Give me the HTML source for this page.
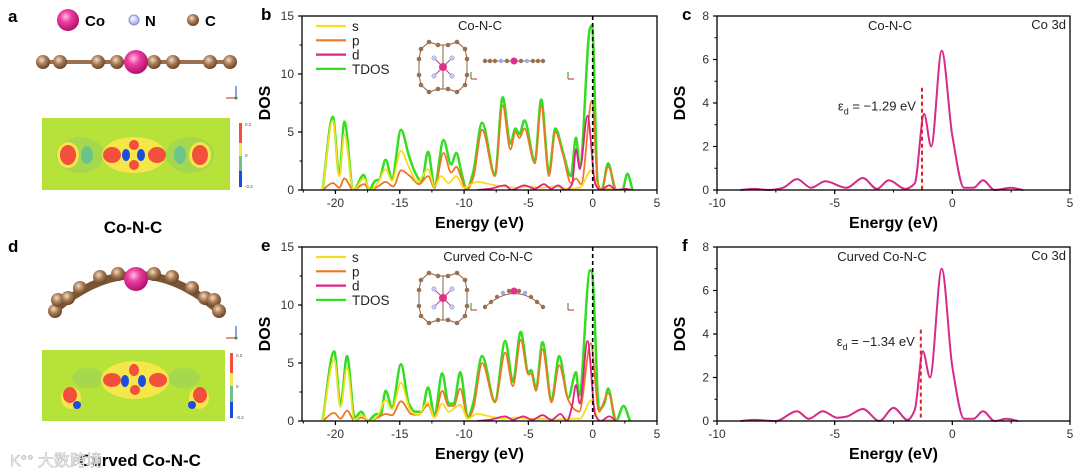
<!DOCTYPE html>
<html><head><meta charset="utf-8">
<style>
html,body{margin:0;padding:0;background:#fff;}
svg{display:block;font-family:"Liberation Sans",Arial,sans-serif;}
</style></head>
<body>
<svg id="fig" width="1080" height="473" viewBox="0 0 1080 473" xmlns="http://www.w3.org/2000/svg">
<defs>
<radialGradient id="gCo" cx="40%" cy="35%" r="65%"><stop offset="0" stop-color="#ffc0e4"/><stop offset="0.4" stop-color="#ec3ea0"/><stop offset="1" stop-color="#b0106a"/></radialGradient>
<radialGradient id="gC" cx="40%" cy="35%" r="65%"><stop offset="0" stop-color="#f3dcc4"/><stop offset="0.5" stop-color="#a77a55"/><stop offset="1" stop-color="#6a4526"/></radialGradient>
<radialGradient id="gN" cx="40%" cy="35%" r="65%"><stop offset="0" stop-color="#ffffff"/><stop offset="1" stop-color="#9aa2e8"/></radialGradient>
</defs>

<g>
<text x="8" y="22" font-size="17" font-weight="bold">a</text>
<circle cx="68" cy="20" r="11" fill="url(#gCo)"/>
<text x="85" y="26" font-size="15" font-weight="bold">Co</text>
<circle cx="134" cy="20" r="5" fill="url(#gN)" stroke="#8a90d8"/>
<text x="145" y="26" font-size="15" font-weight="bold">N</text>
<circle cx="193" cy="20" r="6" fill="url(#gC)"/>
<text x="205" y="26" font-size="15" font-weight="bold">C</text>
<g>
<rect x="45" y="60" width="186" height="4" fill="#9a7050"/>
<circle cx="43" cy="62" r="7" fill="url(#gC)"/><circle cx="60" cy="62" r="7" fill="url(#gC)"/>
<circle cx="98" cy="62" r="7" fill="url(#gC)"/><circle cx="117" cy="62" r="7" fill="url(#gC)"/>
<circle cx="154" cy="62" r="7" fill="url(#gC)"/><circle cx="173" cy="62" r="7" fill="url(#gC)"/>
<circle cx="210" cy="62" r="7" fill="url(#gC)"/><circle cx="230" cy="62" r="7" fill="url(#gC)"/>
<circle cx="136" cy="62" r="12" fill="url(#gCo)"/>
</g>
<g><line x1="236" y1="98" x2="236" y2="86" stroke="#2040d0"/><line x1="236" y1="98" x2="226" y2="98" stroke="#d02020"/><circle cx="236" cy="98" r="1.5" fill="#20a020"/></g>
<g>
<rect x="42" y="118" width="188" height="72" fill="#b6e23a"/>
<ellipse cx="80" cy="155" rx="24" ry="18" fill="#a6d84e"/><ellipse cx="190" cy="155" rx="24" ry="18" fill="#a6d84e"/>
<ellipse cx="87" cy="155" rx="6" ry="9" fill="#6cc48a"/><ellipse cx="180" cy="155" rx="6" ry="9" fill="#6cc48a"/>
<ellipse cx="68" cy="155" rx="11" ry="13" fill="#f5e64a"/><ellipse cx="68" cy="155" rx="8" ry="10" fill="#f2503c"/>
<ellipse cx="200" cy="155" rx="11" ry="13" fill="#f5e64a"/><ellipse cx="200" cy="155" rx="8" ry="10" fill="#f2503c"/>
<ellipse cx="134" cy="155" rx="32" ry="18" fill="#f5e64a"/>
<ellipse cx="112" cy="155" rx="9" ry="8" fill="#f2503c"/><ellipse cx="157" cy="155" rx="9" ry="8" fill="#f2503c"/>
<ellipse cx="134" cy="145" rx="5" ry="5" fill="#f2503c"/><ellipse cx="134" cy="165" rx="5" ry="5" fill="#f2503c"/>
<ellipse cx="126" cy="155" rx="4" ry="6" fill="#1c4de0"/><ellipse cx="141" cy="155" rx="4" ry="6" fill="#1c4de0"/>
</g>
<g>
<rect x="239" y="123" width="3" height="20" fill="#f2503c"/><rect x="239" y="143" width="3" height="13" fill="#f5e64a"/><rect x="239" y="156" width="3" height="15" fill="#6cc48a"/><rect x="239" y="171" width="3" height="16" fill="#1c4de0"/>
<text x="245" y="126" font-size="4.5" fill="#444">0.2</text><text x="245" y="157" font-size="4.5" fill="#444">0</text><text x="245" y="188" font-size="4.5" fill="#444">-0.2</text>
</g>
<text x="133" y="233" font-size="17" font-weight="bold" text-anchor="middle">Co-N-C</text>
</g>

<g>
<text x="8" y="252" font-size="17" font-weight="bold">d</text>
<g>
<path d="M55 310 Q136 240 218 310" fill="none" stroke="#7a5535" stroke-width="8"/>
<circle cx="55" cy="311" r="7" fill="url(#gC)"/><circle cx="58" cy="300" r="7" fill="url(#gC)"/>
<circle cx="68" cy="298" r="7" fill="url(#gC)"/><circle cx="80" cy="288" r="7" fill="url(#gC)"/>
<circle cx="100" cy="277" r="7" fill="url(#gC)"/><circle cx="118" cy="274" r="7" fill="url(#gC)"/>
<circle cx="154" cy="274" r="7" fill="url(#gC)"/><circle cx="172" cy="277" r="7" fill="url(#gC)"/>
<circle cx="192" cy="288" r="7" fill="url(#gC)"/><circle cx="205" cy="298" r="7" fill="url(#gC)"/>
<circle cx="214" cy="300" r="7" fill="url(#gC)"/><circle cx="219" cy="311" r="7" fill="url(#gC)"/>
<circle cx="136" cy="279" r="12" fill="url(#gCo)"/>
</g>
<g><line x1="236" y1="338" x2="236" y2="326" stroke="#2040d0"/><line x1="236" y1="338" x2="226" y2="338" stroke="#d02020"/><circle cx="236" cy="338" r="1.5" fill="#20a020"/></g>
<g>
<rect x="42" y="350" width="183" height="71" fill="#b6e23a"/>
<ellipse cx="88" cy="378" rx="16" ry="10" fill="#a6d84e"/><ellipse cx="184" cy="378" rx="16" ry="10" fill="#a6d84e"/>
<ellipse cx="135" cy="380" rx="34" ry="19" fill="#f5e64a"/>
<ellipse cx="112" cy="380" rx="9" ry="7" fill="#f2503c"/><ellipse cx="158" cy="380" rx="9" ry="7" fill="#f2503c"/>
<ellipse cx="134" cy="370" rx="5" ry="6" fill="#f2503c"/><ellipse cx="135" cy="390" rx="5" ry="5" fill="#f2503c"/>
<ellipse cx="125" cy="381" rx="4" ry="6" fill="#1c4de0"/><ellipse cx="142" cy="381" rx="4" ry="6" fill="#1c4de0"/>
<ellipse cx="71" cy="398" rx="10" ry="11" fill="#f5e64a"/><ellipse cx="70" cy="395" rx="7" ry="8" fill="#f2503c"/><ellipse cx="77" cy="405" rx="4" ry="4" fill="#1c4de0"/>
<ellipse cx="199" cy="398" rx="10" ry="11" fill="#f5e64a"/><ellipse cx="200" cy="395" rx="7" ry="8" fill="#f2503c"/><ellipse cx="192" cy="405" rx="4" ry="4" fill="#1c4de0"/>
</g>
<g>
<rect x="230" y="353" width="3" height="20" fill="#f2503c"/><rect x="230" y="373" width="3" height="13" fill="#f5e64a"/><rect x="230" y="386" width="3" height="16" fill="#6cc48a"/><rect x="230" y="402" width="3" height="16" fill="#1c4de0"/>
<text x="236" y="357" font-size="4.5" fill="#444">0.2</text><text x="236" y="388" font-size="4.5" fill="#444">0</text><text x="236" y="419" font-size="4.5" fill="#444">-0.2</text>
</g>
<text x="140" y="466" font-size="17" font-weight="bold" text-anchor="middle">Curved Co-N-C</text>
<text x="10" y="466" font-size="16" fill="#ffffff" stroke="#bbb" stroke-width="0.6" font-family="'Liberation Sans','Noto Sans CJK SC',sans-serif">K°° 大数跨境</text>
</g>

<g id="charts"></g>
</svg>

<script>
// ===== Panel b (Co-N-C PDOS) =====
const bTdosX=[-21,-20.2,-19.7,-19.3,-18.6,-17.8,-17.4,-16.9,-16.6,-16.1,-15.6,-14.9,-14.3,-13.8,-13.3,-12.8,-12.3,-11.6,-11.0,-10.6,-10.2,-9.8,-9.3,-8.6,-7.6,-7.0,-6.4,-6.0,-5.7,-5.3,-4.5,-4.0,-3.4,-2.9,-2.3,-1.7,-1.3,-1.0,-0.2,-0.05,0.4,0.7,1.2,1.8,2.3,2.7,3.1];
const bTdosY=[0,6.3,1.3,5.9,0,1.3,0,0.8,0.9,2.6,1.0,5.2,3.0,1.5,0.7,3.3,0.3,4.3,2.2,3.2,1.5,0,1.5,5.8,1.3,8.0,4.0,5.3,4.8,6.0,2.5,7.8,1.5,5.3,3.2,1.2,4.5,2.0,14.0,14.2,0.5,0,2.3,0,0,1.4,0];
const bPX=[-21,-20.2,-19.7,-19.3,-18.6,-17.8,-17.3,-16.7,-16.1,-15.5,-14.9,-14.2,-13.5,-12.8,-12.3,-11.6,-11.0,-10.6,-10.2,-9.8,-9.3,-8.6,-7.6,-7.0,-6.4,-6.0,-5.7,-5.3,-4.5,-4.0,-3.4,-2.9,-2.3,-1.7,-1.3,-0.9,-0.05,0.4,0.7,1.2,1.8];
const bPY=[0,0.6,0.2,1.0,0,0.5,0,0.3,0.7,0.3,1.7,1.2,0.5,1.2,0.2,3.2,1.5,2.0,1.0,0,1.0,5.2,1.2,7.3,3.5,5.0,4.5,5.3,2.3,7.2,1.2,5.0,3.0,0.6,1.0,0.5,7.7,0.5,0,2.0,0];
const bSX=[-21,-20.2,-19.7,-19.3,-18.6,-17.8,-17.3,-16.7,-16.1,-15.6,-14.9,-14.3,-13.6,-12.8,-12.3,-11.8,-11.2,-10.6,-10.0,-9.0,-8,-7,-6,-5,-4,-3,-2,-1,-0.1,0.5,1.2,2];
const bSY=[0,6.0,1.2,4.8,0,1.0,0,0.6,1.8,0.8,3.4,2.0,0.7,1.8,0.3,1.2,0.6,1.2,0.2,0.7,0.5,0.3,0.2,0.3,0.2,0.3,0.1,0.2,1.7,0,0.1,0];
const bDX=[-9,-8,-6.8,-6.3,-5.3,-4.5,-3.8,-3.2,-2.7,-2.1,-1.6,-1.3,-1.0,-0.4,0.2,0.6,1.3,1.8,2.6,3];
const bDY=[0,0.1,0.4,0,0.4,0.1,0.5,0.1,0.4,0,0.5,3.5,1.8,6.4,0.5,0,0.4,0,0.1,0];
// ===== Panel e (Curved Co-N-C PDOS) =====
const eTdosX=[-21,-20.1,-19.6,-19.1,-18.5,-18.0,-17.5,-16.8,-16.5,-16.1,-15.6,-14.9,-14.3,-13.8,-13.3,-12.8,-12.3,-11.7,-11.2,-10.8,-10.3,-9.7,-9.3,-8.6,-7.6,-6.8,-6.2,-5.6,-5.0,-4.8,-4.4,-3.9,-3.2,-2.6,-1.9,-1.3,-1.05,-0.2,-0.05,0.5,0.9,1.2,1.8,2.4,2.9];
const eTdosY=[0,6.0,1.4,5.6,0.3,0.8,0,0.6,0.5,2.6,1.2,4.9,1.5,0.8,0.8,2.9,0.5,4.1,1.5,1.5,4.2,0.3,1.5,5.6,1.7,6.9,3.4,7.7,4.2,4.4,2.8,6.8,1.8,5.6,2.0,4.2,2.2,13.0,12.8,1.0,1.5,2.8,0,1.3,0];
const ePX=[-21,-20.1,-19.6,-19.1,-18.5,-18,-17.3,-16.7,-16.1,-15.6,-14.9,-14.1,-13.6,-12.8,-12.3,-11.7,-11.2,-10.8,-10.3,-9.7,-9.3,-8.6,-7.6,-6.8,-6.2,-5.6,-5.0,-4.8,-4.4,-3.9,-3.2,-2.6,-1.9,-1.3,-1.05,-0.15,0.5,1.2,1.8];
const ePY=[0,0.7,0.2,0.9,0,0.3,0,0.3,0.6,0.5,1.7,0.6,0.5,1.4,0.3,2.6,1.3,1.3,2.8,0.2,1.0,5.0,1.6,5.9,3.0,7.0,4.0,4.1,2.6,6.2,1.6,4.8,1.8,0.9,0.8,6.7,0.8,2.4,0];
const eSX=[-21,-20.1,-19.6,-19.1,-18.5,-18,-17.3,-16.7,-16.1,-15.6,-14.9,-14.2,-13.6,-12.8,-12.3,-11.7,-11.2,-10.3,-9.7,-9,-8,-7,-6,-5,-4,-3,-2,-1,-0.1,0.5,1.2,2];
const eSY=[0,5.3,1.2,4.6,0,0.5,0,0.5,1.8,1.0,3.3,1.0,0.5,1.6,0.3,1.5,0.8,1.4,0.2,0.6,0.4,0.2,0.3,0.2,0.2,0.1,0.2,0.2,1.8,0,0.1,0];
const eDX=[-9,-8,-6.8,-6.2,-5.4,-4.7,-3.9,-3.2,-2.5,-2.0,-1.6,-1.3,-1.0,-0.4,0.2,0.6,1.3,1.8];
const eDY=[0,0.1,0.4,0.1,0.4,0.1,0.5,0.1,0.6,0,1.3,3.1,1.5,6.9,0.5,0,0.4,0];
// ===== Panels c / f (Co 3d) =====
const cX=[-9,-8.4,-7.8,-7.2,-6.6,-6.0,-5.4,-4.5,-3.8,-3.2,-2.7,-2.0,-1.6,-1.2,-0.9,-0.45,0.0,0.5,0.9,1.3,1.8,2.5,3];
const cY=[0,0.05,0,0.1,0.5,0.1,0.4,0.1,0.55,0.05,0.45,0.05,0.3,3.5,2.0,6.4,2.5,0.1,0.1,0.45,0,0.1,0];
const fX=[-9,-8.4,-7.5,-6.6,-6.1,-5.5,-4.9,-4.5,-3.8,-3.1,-2.5,-1.9,-1.6,-1.25,-0.95,-0.45,0.0,0.5,0.9,1.3,1.8,2.3,2.8];
const fY=[0,0.05,0,0.45,0.1,0.45,0.15,0.2,0.55,0,0.6,0.05,0.5,3.2,2.0,7.0,2.5,0.1,0.1,0.45,0,0.1,0];
const pdosXTicks=[-20,-15,-10,-5,0,5];
const pdosYTicks=[0,5,10,15];
const d3XTicks=[-10,-5,0,5];
const d3YTicks=[0,2,4,6,8];
const cDband=[-1.29];
const fDband=[-1.34];

const NS='http://www.w3.org/2000/svg';
const root=document.getElementById('charts');
function el(tag,attrs,parent,text){const e=document.createElementNS(NS,tag);for(const k in attrs)e.setAttribute(k,attrs[k]);if(text!==undefined)e.textContent=text;(parent||root).appendChild(e);return e;}
function makeScale(d0,d1,r0,r1){return v=>r0+(v-d0)/(d1-d0)*(r1-r0);}
// monotone cubic interpolation (Fritsch-Carlson) -> bezier path
function smoothPath(xs,ys,sx,sy){
  const X=xs.map(sx), Y=ys.map(sy), n=X.length;
  const dl=[],m=new Array(n).fill(0);
  for(let i=0;i<n-1;i++)dl.push((Y[i+1]-Y[i])/(X[i+1]-X[i]));
  m[0]=dl[0];m[n-1]=dl[n-2];
  for(let i=1;i<n-1;i++){ if(dl[i-1]*dl[i]<=0) m[i]=0; else { const w1=2*(X[i+1]-X[i])+(X[i]-X[i-1]), w2=(X[i+1]-X[i])+2*(X[i]-X[i-1]); m[i]=(w1+w2)/(w1/dl[i-1]+w2/dl[i]); } }
  let d='M'+X[0].toFixed(1)+' '+Y[0].toFixed(1);
  for(let i=0;i<n-1;i++){const h=(X[i+1]-X[i])/3;
    d+=' C'+(X[i]+h).toFixed(1)+' '+(Y[i]+m[i]*h).toFixed(1)+' '+(X[i+1]-h).toFixed(1)+' '+(Y[i+1]-m[i+1]*h).toFixed(1)+' '+X[i+1].toFixed(1)+' '+Y[i+1].toFixed(1);}
  return d;
}
function axes(g,x0,x1,y0,y1,sx,sy,xt,yt,xminor,yminor,xmin,xmax,ymax){
  const frame=el('rect',{x:x0,y:y0,width:x1-x0,height:y1-y0,fill:'none',stroke:'#000','stroke-width':1.3},g);
  
  xt.forEach(v=>{const x=sx(v);el('line',{x1:x,y1:y1,x2:x,y2:y1+4,stroke:'#000','stroke-width':1.2},g);
    const t=el('text',{x:x,y:y1+17,'font-size':12,'text-anchor':'middle',fill:'#333'},g,String(v));
    });
  for(let v=xmin;v<=xmax;v+=xminor){const x=sx(v);el('line',{x1:x,y1:y1,x2:x,y2:y1+2.5,stroke:'#000','stroke-width':1},g);}
  yt.forEach(v=>{const y=sy(v);el('line',{x1:x0,y1:y,x2:x0-4,y2:y,stroke:'#000','stroke-width':1.2},g);
    const t=el('text',{x:x0-8,y:y+4,'font-size':12,'text-anchor':'end',fill:'#333'},g,String(v));
    });
  for(let v=0;v<=ymax;v+=yminor){const y=sy(v);el('line',{x1:x0,y1:y,x2:x0-2.5,y2:y,stroke:'#000','stroke-width':1},g);}
  const yl=el('text',{x:0,y:0,'font-size':16,'font-weight':'bold','text-anchor':'middle',transform:'translate('+(x0-32)+','+((y0+y1)/2)+') rotate(-90)'},g,'DOS');
  
  const xl=el('text',{x:(x0+x1)/2,y:y1+38,'font-size':16,'font-weight':'bold','text-anchor':'middle'},g,'Energy (eV)');
  
}
function inset(g,cx,cy,curved){
  const ig=el('g',{},g);
  const hex=[[-22,-18],[-14,-25],[-5,-22],[5,-22],[14,-25],[22,-18],[24,-8],[24,8],[22,18],[14,25],[5,22],[-5,22],[-14,25],[-22,18],[-24,8],[-24,-8]];
  let d='M'+hex.map(p=>(cx+p[0])+' '+(cy+p[1])).join(' L')+'Z';
  el('path',{d:d,fill:'none',stroke:'#8a6040','stroke-width':1},ig);
  el('line',{x1:cx-9,y1:cy-9,x2:cx+9,y2:cy+9,stroke:'#c04080'},ig);el('line',{x1:cx+9,y1:cy-9,x2:cx-9,y2:cy+9,stroke:'#c04080'},ig);
  el('line',{x1:cx,y1:cy-22,x2:cx,y2:cy+22,stroke:'#8a6040'},ig);
  hex.forEach(p=>el('circle',{cx:cx+p[0],cy:cy+p[1],r:2.3,fill:'#9a7050'},ig));
  [[-9,-9],[9,-9],[9,9],[-9,9]].forEach(p=>el('circle',{cx:cx+p[0],cy:cy+p[1],r:2.2,fill:'#c8cdf5',stroke:'#8088d0','stroke-width':0.5},ig));
  el('circle',{cx:cx,cy:cy,r:4,fill:'#e0308a'},ig);
  const sx0=cx+42, sy0=cy-6;
  if(!curved){el('line',{x1:sx0,y1:sy0,x2:sx0+58,y2:sy0,stroke:'#8a6040'},ig);
    [0,5,10,16,22,36,42,48,53,58].forEach((o,i)=>el('circle',{cx:sx0+o,cy:sy0,r:2.2,fill:(i==3||i==6)?'#a0a8e8':'#9a7050'},ig));}
  else{el('path',{d:'M'+sx0+' '+(sy0+15)+' Q'+(sx0+30)+' '+(sy0-12)+' '+(sx0+58)+' '+(sy0+15),fill:'none',stroke:'#8a6040'},ig);
    [[0,15],[6,10],[12,5],[18,1],[24,-1],[34,-1],[40,1],[46,5],[52,10],[58,15]].forEach((p,i)=>el('circle',{cx:sx0+p[0],cy:sy0+p[1],r:2.2,fill:(i==3||i==6)?'#a0a8e8':'#9a7050'},ig));}
  el('circle',{cx:sx0+29,cy:sy0+(curved?-1:0),r:3.5,fill:'#e0308a'},ig);
  [[cx+28,cy+12],[cx+125,cy+12]].forEach(p=>{el('line',{x1:p[0],y1:p[1],x2:p[0],y2:p[1]-7,stroke:'#2a8a2a'},ig);el('line',{x1:p[0],y1:p[1],x2:p[0]+6,y2:p[1],stroke:'#d02020'},ig);});
}
function pdosPanel(letter,top,title,curved,tx,ty,px,py,dx,dy,sxx,syy){
  const g=el('g',{});
  const x0=302,x1=657,y0=top,y1=top+174;
  const sx=makeScale(-22.6,5,x0,x1), sy=makeScale(0,15,y1,y0);
  const lab=el('text',{x:261,y:top+4,'font-size':17,'font-weight':'bold'},g,letter);
  
  const cp=el('clipPath',{id:'clip'+letter},g);el('rect',{x:x0,y:y0,width:x1-x0,height:y1-y0},cp);
  const series=[['tdos',tx,ty,'#33dd22'],['p',px,py,'#ee7722'],['s',sxx,syy,'#f5dd20'],['d',dx,dy,'#dd2288']];
  series.forEach(s=>{const p=el('path',{d:smoothPath(s[1],s[2],sx,sy),fill:'none',stroke:s[3],'stroke-width':s[0]=='tdos'?2.5:1.8,'stroke-linejoin':'round','clip-path':'url(#clip'+letter+')'},g);
    });
  const fl=el('line',{x1:sx(0),y1:y0,x2:sx(0),y2:y1,stroke:'#000','stroke-width':1.6,'stroke-dasharray':'4,3'},g);
  
  axes(g,x0,x1,y0,y1,sx,sy,pdosXTicks,pdosYTicks,2.5,2.5,-22.5,5,15);
  const leg=[['s','#f5dd20'],['p','#ee7722'],['d','#dd2288'],['TDOS','#33dd22']];
  leg.forEach((l,i)=>{const yy=top+10+i*14.3;
    const ln=el('line',{x1:316,y1:yy,x2:346,y2:yy,stroke:l[1],'stroke-width':2.2},g);
    
    const t=el('text',{x:352,y:yy+5,'font-size':13.5,fill:'#222'},g,l[0]);
    });
  const tt=el('text',{x:curved?488:480,y:top+14,'font-size':13,'text-anchor':'middle',fill:'#222'},g,title);
  
  inset(g,443,top+51,curved);
}
function d3Panel(letter,top,title,xs,ys,ed){
  const g=el('g',{});
  const x0=717,x1=1070,y0=top,y1=top+174;
  const sx=makeScale(-10,5,x0,x1), sy=makeScale(0,8,y1,y0);
  const lab=el('text',{x:682,y:top+4,'font-size':17,'font-weight':'bold'},g,letter);
  
  const p=el('path',{d:smoothPath(xs,ys,sx,sy),fill:'none',stroke:'#d62a8a','stroke-width':2},g);
  
  const dl=el('line',{x1:sx(ed[0]),y1:sy(letter=='c'?4.7:4.2),x2:sx(ed[0]),y2:y1,stroke:'#e02020','stroke-width':2,'stroke-dasharray':'4,3'},g);
  
  axes(g,x0,x1,y0,y1,sx,sy,d3XTicks,d3YTicks,2.5,1,-10,5,8);
  const t=el('text',{x:sx(ed[0])-6,y:sy(letter=='c'?3.6:3.4)-1,'font-size':13,'text-anchor':'end',fill:'#222'},g);
  
  el('tspan',{},t,'ε');el('tspan',{dy:4,'font-size':9},t,'d');
  el('tspan',{dy:-4},t,' = −'+Math.abs(ed[0]).toFixed(2)+' eV');
  const tt=el('text',{x:letter=='c'?890:882,y:top+14,'font-size':13,'text-anchor':'middle',fill:'#222'},g,title);
  
  const co=el('text',{x:1066,y:top+13,'font-size':13,'text-anchor':'end',fill:'#222'},g,'Co 3d');
  
}
pdosPanel('b',16,'Co-N-C',false,bTdosX,bTdosY,bPX,bPY,bDX,bDY,bSX,bSY);
pdosPanel('e',247,'Curved Co-N-C',true,eTdosX,eTdosY,ePX,ePY,eDX,eDY,eSX,eSY);
d3Panel('c',16,'Co-N-C',cX,cY,cDband);
d3Panel('f',247,'Curved Co-N-C',fX,fY,fDband);
</script>
</body></html>
